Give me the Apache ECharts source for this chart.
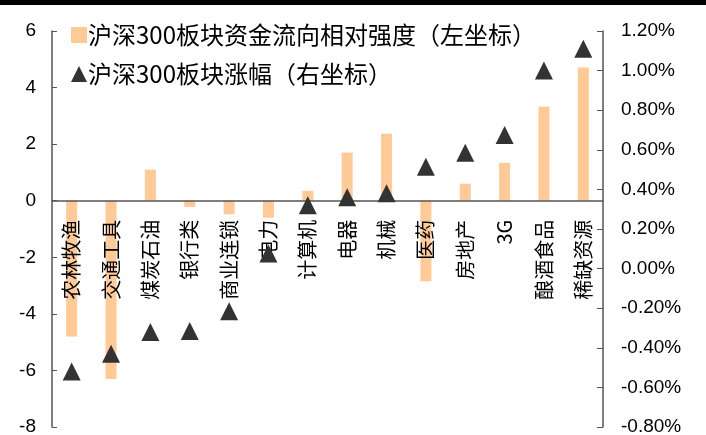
<!DOCTYPE html>
<html><head><meta charset="utf-8">
<script src="https://cdn.jsdelivr.net/npm/echarts@6/dist/echarts.min.js"></script>
<style>html,body{margin:0;padding:0;background:#fff}#c{width:706px;height:435px}</style>
</head><body><div id="c"></div>
<script>
const categories = ['农林牧渔','交通工具','煤炭石油','银行类','商业连锁','电力','计算机','电器','机械','医药','房地产','3G','酿酒食品','稀缺资源'];
const strengthValues = [-4.8,-6.3,1.1,-0.22,-0.48,-0.6,0.35,1.7,2.37,-2.85,0.6,1.34,3.32,4.71];
const changeValues = [-0.52,-0.43,-0.32,-0.315,-0.215,0.076,0.32,0.36,0.38,0.515,0.585,0.675,1.0,1.11];
const leftTicks = {min:-8,max:6,interval:2};
const rightTicks = {min:-0.8,max:1.2,interval:0.2};
const seriesNames = ['沪深300板块资金流向相对强度（左坐标）','沪深300板块涨幅（右坐标）'];

const chart = echarts.init(document.getElementById('c'), null, {renderer:'canvas'});
const axisColor = '#555';
const cjk = '"Noto Sans CJK SC", sans-serif';
const num = '"Liberation Sans", Arial, sans-serif';
const gridTop = 31, gridBottom = 8, H = 435;
// place the category axis on the left axis' zero line
const plotH = H - gridTop - gridBottom;
const zeroOffset = -plotH * (0 - leftTicks.min) / (leftTicks.max - leftTicks.min);
chart.setOption({
  animation:false,
  graphic:[{type:'rect',left:0,top:0,shape:{width:706,height:5},style:{fill:'#000'},z:100}],
  grid:{left:52,right:103,top:gridTop,bottom:gridBottom,containLabel:false,outerBoundsMode:'none'},
  legend:{
    orient:'vertical',left:66,top:18,itemWidth:16,itemHeight:16,itemGap:15,
    textStyle:{fontFamily:cjk,fontSize:24,color:'#000',padding:[0,0,0,-4]},
    data:[{name:seriesNames[0],icon:'rect'},{name:seriesNames[1],icon:'triangle'}]
  },
  xAxis:{
    type:'category',data:categories,z:3,position:'bottom',offset:zeroOffset,
    axisLine:{onZero:false,lineStyle:{color:axisColor,width:1.5}},
    axisTick:{inside:true,length:5,lineStyle:{color:axisColor}},
    axisLabel:{rotate:90,margin:19,fontFamily:cjk,fontSize:20,color:'#000',interval:0}
  },
  yAxis:[
    {type:'value',min:leftTicks.min,max:leftTicks.max,interval:leftTicks.interval,z:3,
     axisLine:{show:true,lineStyle:{color:axisColor,width:1.5}},
     axisTick:{show:true,inside:true,length:5,lineStyle:{color:axisColor}},
     splitLine:{show:false},
     axisLabel:{margin:16,fontFamily:num,fontSize:19,color:'#000'}},
    {type:'value',min:rightTicks.min,max:rightTicks.max,interval:rightTicks.interval,position:'right',z:3,
     axisLine:{show:true,onZero:false,lineStyle:{color:axisColor,width:1.5}},
     axisTick:{show:true,inside:true,length:6,lineStyle:{color:axisColor}},
     splitLine:{show:false},
     axisLabel:{margin:18,fontFamily:num,fontSize:19,color:'#000',
       formatter:v=>{const r=Math.round(v*100)/100;return (Math.abs(r)<1e-9?0:r).toFixed(2)+'%';}}}
  ],
  series:[
    {name:seriesNames[0],type:'bar',yAxisIndex:0,data:strengthValues,barWidth:11,z:2,
     itemStyle:{color:'#FFCA96'}},
    {name:seriesNames[1],type:'scatter',yAxisIndex:1,data:changeValues,symbol:'triangle',symbolSize:[18,18],z:5,
     itemStyle:{color:'#333333',opacity:1}}
  ]
});
</script></body></html>
